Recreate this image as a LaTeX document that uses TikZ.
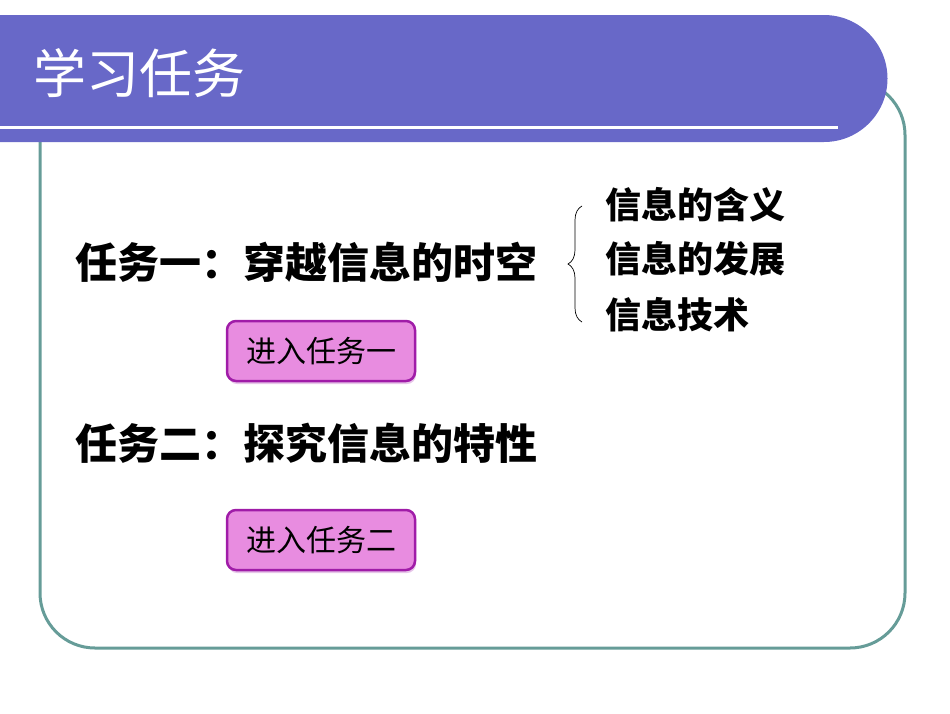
\documentclass[tikz,border=0pt]{standalone}
\usepackage{fontspec}
\newfontfamily\cjk{Noto Sans CJK SC}
\usetikzlibrary{decorations.pathreplacing,shadows}
\definecolor{band}{HTML}{6868C8}
\definecolor{frame}{HTML}{669C98}
\definecolor{btn}{HTML}{E88CE0}
\definecolor{btnedge}{HTML}{A01CA8}
\tikzset{
 txt/.style={anchor=west,inner sep=0pt,font=\cjk\bfseries\fontsize{42}{45}\selectfont},
 sub/.style={anchor=west,inner sep=0pt,font=\cjk\bfseries\fontsize{36}{38}\selectfont},
 btnbox/.style={draw=btnedge,line width=2.5pt,fill=btn,rounded corners=9pt,minimum width=188pt,minimum height=60pt,font=\cjk\fontsize{30}{32}\selectfont,drop shadow={shadow xshift=1pt,shadow yshift=-3pt,fill=btnedge!50}}
}
\begin{document}
\begin{tikzpicture}[x=1pt,y=-1pt]
\useasboundingbox (0,0) rectangle (950,713);
\draw[frame,line width=3pt,rounded corners=55pt] (40,80) rectangle (905,648);
\fill[band] (0,15) -- (824,15) arc[start angle=-90,end angle=90,radius=63.5] -- (0,142) -- cycle;
\draw[white,line width=3pt] (0,127) -- (838,127);
\node[anchor=west,inner sep=0pt,text=white,font=\cjk\fontsize{53}{56}\selectfont] (title) at (33,73) {学习任务};
\node[txt] (t1) at (75,262) {任务一：穿越信息的时空};
\node[sub] (s1) at (605,205) {信息的含义};
\node[sub] (s2) at (605,259) {信息的发展};
\node[sub] (s3) at (605,315) {信息技术};
\draw[line width=0.7pt,decorate,decoration={brace,amplitude=14pt}] (582,322) -- (582,206);
\node[btnbox] (b1) at (321,351) {进入任务一};
\node[txt] (t2) at (75,443) {任务二：探究信息的特性};
\node[btnbox] (b2) at (321,540) {进入任务二};
\end{tikzpicture}
\end{document}
